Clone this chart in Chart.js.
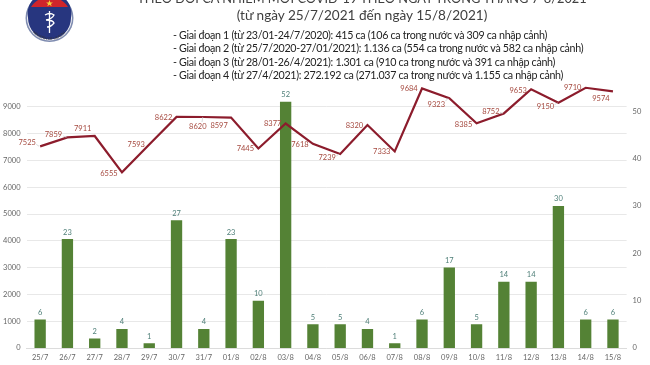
<!DOCTYPE html>
<html>
<head>
<meta charset="utf-8">
<script src="https://cdn.jsdelivr.net/npm/chart.js@4"></script>
<style>
  html, body { margin: 0; padding: 0; background: #fff; }
  #wrap { position: relative; width: 650px; height: 365px; overflow: hidden; font-family: Lato, sans-serif; }
  #chart { position: absolute; left: 0; top: 0; }
  #logo { position: absolute; left: 20px; top: -8px; }
  .title { position: absolute; left: 0; width: 724px; text-align: center; color: #404040; white-space: nowrap; }
  #periods { position: absolute; left: 173px; top: 28px; font-size: 10.7px; letter-spacing: -0.3px; line-height: 13.4px; color: #222; white-space: nowrap; }
</style>
</head>
<body>
<div id="wrap">
  <canvas id="chart" width="650" height="365"></canvas>
  <svg id="logo" width="60" height="60" viewBox="0 0 60 60">
    <defs><path id="arc" d="M11 38 A 22 22 0 0 0 48 38"/></defs>
    <circle cx="29.5" cy="26" r="24" fill="#7f8cb0"/>
    <circle cx="29.5" cy="26" r="22.5" fill="#f4f4f6"/>
    <path d="M7.5 22 A 22 22 0 0 1 51.5 22 L 51 26 A 21.5 21.5 0 0 1 8 26 Z" fill="#27367f"/>
    <path d="M11 15 A 22 22 0 0 1 48 15 Z" fill="#d0252b"/>
    <path d="M29.5 8 l0.9 2.4 2.5 0 -2 1.5 0.8 2.4 -2.2 -1.5 -2.2 1.5 0.8 -2.4 -2 -1.5 2.5 0 z" fill="#f5d33a"/>
    <path d="M29.5 19 V41 M25 23 q5 -3 9 0 q-2 4 -8 5 q7 0 8 3 q-3 4 -7 4" stroke="#fff" stroke-width="1.3" fill="none"/>
    <text font-size="3.6" fill="#333" font-family="Lato"><textPath href="#arc" startOffset="3">MINISTRY OF HEALTH</textPath></text>
  </svg>
  <div class="title" style="top:-10px;font-size:12.8px">THEO DÕI CA NHIỄM MỚI COVID-19 THEO NGÀY TRONG THÁNG 7-8/2021</div>
  <div class="title" style="top:7px;font-size:13.6px">(từ ngày 25/7/2021 đến ngày 15/8/2021)</div>
  <div id="periods">
    - Giai đoạn 1 (từ 23/01-24/7/2020): 415 ca (106 ca trong nước và 309 ca nhập cảnh)<br>
    - Giai đoạn 2 (từ 25/7/2020-27/01/2021): 1.136 ca (554 ca trong nước và 582 ca nhập cảnh)<br>
    - Giai đoạn 3 (từ 28/01-26/4/2021): 1.301 ca (910 ca trong nước và 391 ca nhập cảnh)<br>
    - Giai đoạn 4 (từ 27/4/2021): 272.192 ca (271.037 ca trong nước và 1.155 ca nhập cảnh)
  </div>
</div>
<script>
const days = ["25/7","26/7","27/7","28/7","29/7","30/7","31/7","01/8","02/8","03/8","04/8","05/8","06/8","07/8","08/8","09/8","10/8","11/8","12/8","13/8","14/8","15/8"];
const domestic = [7525,7859,7911,6555,7593,8622,8620,8597,7445,8377,7618,7239,8320,7333,9684,9323,8385,8752,9653,9150,9710,9574];
const imported = [6,23,2,4,1,27,4,23,10,52,5,5,4,1,6,17,5,14,14,30,6,6];

// label offsets for the red line, dragged by hand in the original
const labelDx = [-13,-14,-12,-13,-13,-13,-6,-12,-13,-13,-13,-13,-13,-13,-13,-13,-13,-13,-13,-13,-13,-12];
const labelDy = [-4,-3,-7,1,0,1,10,8,0,0,1,4,1,0,0,6,1,-2,1,4,0,7];
const leaders = [0,1,6,11,15,17,19];

const dataLabels = {
  id: "dataLabels",
  afterDatasetsDraw(chart) {
    const ctx = chart.ctx;
    const bars = chart.getDatasetMeta(1).data;
    const pts = chart.getDatasetMeta(0).data;
    ctx.save();
    ctx.font = "7.5px Lato";
    ctx.textAlign = "center";
    ctx.textBaseline = "middle";
    bars.forEach((b, i) => {
      ctx.fillStyle = "#4f7f78";
      ctx.fillText(imported[i], b.x, b.y - 7);
    });
    pts.forEach((p, i) => {
      if (leaders.includes(i)) {
        ctx.strokeStyle = "#c9c9c9";
        ctx.lineWidth = 0.7;
        ctx.beginPath();
        ctx.moveTo(p.x + labelDx[i] * 0.3, p.y + labelDy[i] * 0.5);
        ctx.lineTo(p.x - 1, p.y);
        ctx.stroke();
      }
      ctx.fillStyle = "#a5493f";
      ctx.fillText(domestic[i], p.x + labelDx[i], p.y + labelDy[i]);
    });
    ctx.restore();
  }
};

new Chart(document.getElementById("chart"), {
  data: {
    labels: days,
    datasets: [
      { type: "line", data: domestic, yAxisID: "yLeft", borderColor: "#8c1c2c", borderWidth: 2.2, pointRadius: 0, tension: 0, order: 1 },
      { type: "bar", data: imported, yAxisID: "yRight", backgroundColor: "#548235", barPercentage: 0.415, categoryPercentage: 1, order: 2 }
    ]
  },
  options: {
    responsive: false,
    animation: false,
    layout: { padding: { top: 80, left: 0, right: 0, bottom: 0 } },
    plugins: { legend: { display: false }, tooltip: { enabled: false } },
    scales: {
      x: {
        grid: { display: false, drawTicks: false },
        border: { color: "#dcdcdc" },
        ticks: { font: { size: 7.5, family: "Lato" }, color: "#666", maxRotation: 0, autoSkip: false, padding: 5 },
        afterFit(s) { s.height = 17; }
      },
      yLeft: {
        position: "left",
        min: 0,
        max: 10000,
        grid: { color: "#e8e8e8", drawTicks: false },
        border: { display: false },
        ticks: { stepSize: 1000, font: { size: 7.5, family: "Lato" }, color: "#666", padding: 6, callback: v => String(v) },
        afterBuildTicks(s) { s.ticks = s.ticks.filter(t => t.value <= 9000); },
        afterFit(s) { s.width = 26.5; }
      },
      yRight: {
        position: "right",
        min: 0,
        max: 56.6,
        grid: { display: false, drawTicks: false },
        border: { display: false },
        ticks: { stepSize: 10, font: { size: 7.5, family: "Lato" }, color: "#666", padding: 6 },
        afterBuildTicks(s) { s.ticks = s.ticks.filter(t => t.value % 10 === 0); },
        afterFit(s) { s.width = 23.4; }
      }
    }
  },
  plugins: [dataLabels]
});
</script>
</body>
</html>
